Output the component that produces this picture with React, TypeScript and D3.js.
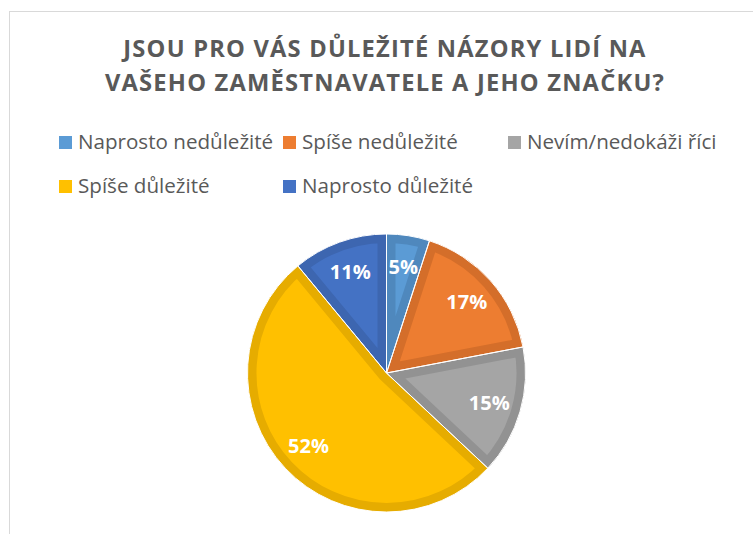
import React from "react";
import * as d3 from "d3";

const titleLines = ["JSOU PRO VÁS DŮLEŽITÉ NÁZORY LIDÍ NA", "VAŠEHO ZAMĚSTNAVATELE A JEHO ZNAČKU?"];
const categories = ["Naprosto nedůležité", "Spíše nedůležité", "Nevím/nedokáži říci", "Spíše důležité", "Naprosto důležité"];
const values = [5, 17, 15, 52, 11];
const fills = ["#5B9BD5", "#ED7D31", "#A5A5A5", "#FFC000", "#4472C4"];
const borders = ["#4F88BD", "#D46E2A", "#929292", "#E6AC00", "#3D66B0"];
const legendCols = [59, 283, 508];

export default function App() {
  const W = 753, H = 534;
  const cx = 386.5, cy = 373, r = 139;
  const pie = d3.pie<number>().sort(null).value((d) => d)(values);
  const arc = d3.arc<d3.PieArcDatum<number>>().innerRadius(0).outerRadius(r);
  const total = d3.sum(values);
  const labelArc = d3.arc<d3.PieArcDatum<number>>().innerRadius(r * 0.77).outerRadius(r * 0.77);
  return (
    <svg width={W} height={H} style={{ position: "absolute", left: 0, top: 0, background: "#fff" }}>
      <rect x={9.5} y={11.5} width={W} height={H} fill="#fff" stroke="#D9D9D9" strokeWidth={1} />
      {titleLines.map((t, i) => (
        <text key={i} x={385} y={57 + i * 34} textAnchor="middle" fill="#595959"
          style={{ fontFamily: "'Open Sans', sans-serif", fontWeight: 700, fontSize: 23.7, letterSpacing: 1.2 }}>
          {t}
        </text>
      ))}
      {categories.map((c, i) => {
        const row = i < 3 ? 0 : 1;
        const col = i < 3 ? i : i - 3;
        const x = legendCols[col];
        const y = row === 0 ? 149 : 193;
        return (
          <g key={c}>
            <rect x={x} y={y - 13} width={13} height={13} fill={fills[i]} />
            <text x={x + 19} y={y} fill="#595959" style={{ fontFamily: "'Open Sans', sans-serif", fontSize: 20.6 }}>{c}</text>
          </g>
        );
      })}
      <defs>
        {pie.map((p, i) => (
          <clipPath key={i} id={`clip${i}`}>
            <path d={arc(p) || ""} />
          </clipPath>
        ))}
      </defs>
      <g transform={`translate(${cx},${cy})`}>
        {pie.map((p, i) => (
          <path key={i} d={arc(p) || ""} fill={fills[i]} />
        ))}
        {pie.map((p, i) => (
          <path key={i} d={arc(p) || ""} fill="none" stroke={borders[i]}
            strokeWidth={18} strokeLinejoin="miter" clipPath={`url(#clip${i})`} />
        ))}
        {pie.map((p, i) => (
          <path key={i} d={arc(p) || ""} fill="none" stroke="#fff" strokeWidth={1} />
        ))}
        {pie.map((p, i) => {
          const [lx, ly] = labelArc.centroid(p);
          return (
            <text key={i} x={lx} y={ly} dy="0.35em" textAnchor="middle" fill="#fff"
              style={{ fontFamily: "'Open Sans', sans-serif", fontWeight: 700, fontSize: 20 }}>
              {Math.round((values[i] / total) * 100)}%
            </text>
          );
        })}
      </g>
    </svg>
  );
}
